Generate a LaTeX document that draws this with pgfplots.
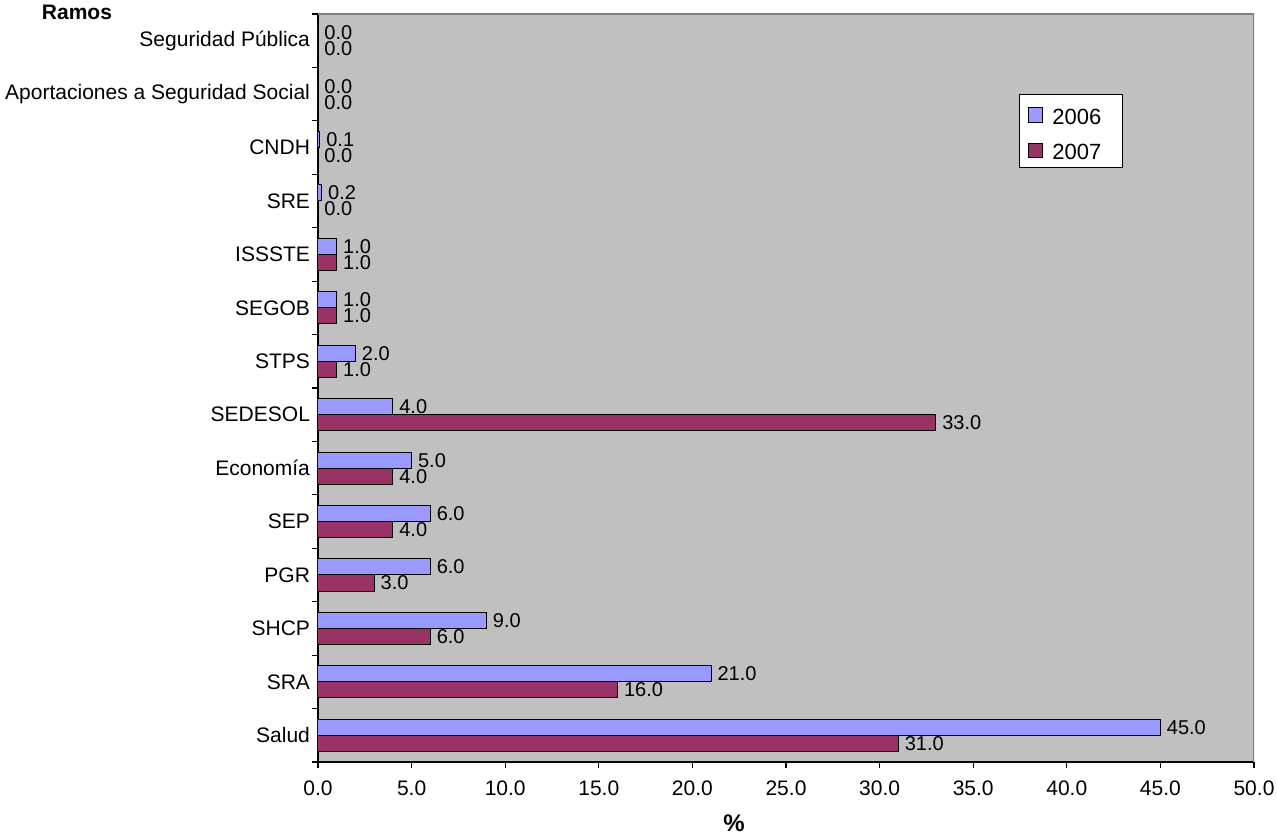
\documentclass[border=0pt]{standalone}
\usepackage{fontspec}
\setmainfont{Liberation Sans}
\usepackage{pgfplots}
\pgfplotsset{compat=1.18}
\definecolor{c2006}{HTML}{9999FF}
\definecolor{c2007}{HTML}{993366}
\definecolor{plotbg}{HTML}{C0C0C0}
\definecolor{frame}{HTML}{808080}
\begin{document}
\begin{tikzpicture}[font=\fontsize{10.5}{12.6}\selectfont]
\useasboundingbox (-159pt,-36pt) rectangle (479.5pt,381pt);
\begin{axis}[
  at={(0,0)}, anchor=south west,
  scale only axis, width=468pt, height=374pt,
  xbar, bar width=0.3,
  xmin=0, xmax=50, ymin=-0.5, ymax=13.5,
  axis background/.style={fill=plotbg},
  axis x line*=bottom, axis y line*=left,
  axis line style={black, line width=0.6pt},
  tick align=outside,
  major tick length=3pt, minor tick length=3pt,
  tick style={black, line width=0.6pt},
  xtick={0,5,...,50},
  xticklabel style={yshift=-3pt, /pgf/number format/.cd, fixed, fixed zerofill, precision=1},
  /pgf/number format/assume math mode=true,
  ytick={0,...,13},
  yticklabels={Salud,SRA,SHCP,PGR,SEP,Economía,SEDESOL,STPS,SEGOB,ISSSTE,SRE,CNDH,Aportaciones a Seguridad Social,Seguridad Pública},
  yticklabel style={xshift=2.5pt},
  every major y tick/.append style={draw=none},
  minor ytick={-0.5,0.5,...,13.5},
  point meta=x,
  nodes near coords,
  every node near coord/.append style={font=\fontsize{10}{12}\selectfont, inner xsep=3pt, /pgf/number format/.cd, fixed, fixed zerofill, precision=1, /pgf/number format/assume math mode=true},
  legend cell align=left,
  legend image code/.code={\draw[#1, draw=black, line width=0.5pt] (0pt,-4.4pt) rectangle (7.4pt,2.8pt);},
  legend style={at={(0.749,0.893)}, anchor=north west, draw=black, line width=0.5pt, fill=white,
    font=\fontsize{11}{13.2}\selectfont,
    inner xsep=4pt, inner ysep=0.35pt, row sep=-0.8pt,
    nodes={inner xsep=4.5pt, inner ysep=3.67pt, text height=11pt, text depth=0pt}},
]
\addplot[fill=c2006, draw=black, line width=0.5pt, bar shift=0.15] coordinates {
(45,0) (21,1) (9,2) (6,3) (6,4) (5,5) (4,6) (2,7) (1,8) (1,9) (0.2,10) (0.1,11) (0,12) (0,13)};
\addplot[fill=c2007, draw=black, line width=0.5pt, bar shift=-0.15] coordinates {
(31,0) (16,1) (6,2) (3,3) (4,4) (4,5) (33,6) (1,7) (1,8) (1,9) (0,10) (0,11) (0,12) (0,13)};
\legend{2006\kern2pt,2007\kern2pt}
\draw[frame, line width=0.6pt] (rel axis cs:0,1) -- (rel axis cs:1,1) -- (rel axis cs:1,0);
\end{axis}
\node[anchor=base, font=\fontsize{10.5}{12.6}\selectfont\bfseries] at (-120.5pt,371pt) {Ramos};
\node[anchor=base, font=\fontsize{12}{14}\selectfont\bfseries] at (208pt,-34.5pt) {\%};
\end{tikzpicture}
\end{document}
